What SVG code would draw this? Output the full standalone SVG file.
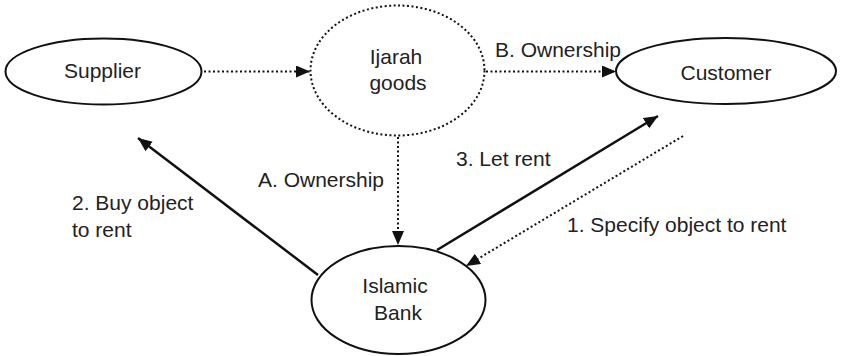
<svg xmlns="http://www.w3.org/2000/svg" width="841" height="356" viewBox="0 0 841 356">
  <style>
    .node { fill: #ffffff; stroke: #111111; stroke-width: 2; }
    .dotted { stroke-dasharray: 2 2.5; }
    .label { font-family: "Liberation Sans", Arial, sans-serif; font-size: 21px; fill: #222222; }
    .mid { text-anchor: middle; }
    .solid-edge { fill: none; stroke: #111111; stroke-width: 2.5; }
    .dot-edge { fill: none; stroke: #111111; stroke-width: 2; stroke-dasharray: 2 2.5; }
  </style>
  <defs>
    <marker id="head" markerUnits="userSpaceOnUse" markerWidth="16" markerHeight="14" refX="14" refY="6" orient="auto">
      <path d="M0,0 L14,6 L0,12 Z" fill="#111111"/>
    </marker>
  </defs>
  <rect width="841" height="356" fill="#ffffff"/>

  <!-- connectors -->
  <g id="connectors">
    <line class="dot-edge" x1="204" y1="71.5" x2="310" y2="71.5" marker-end="url(#head)"/>
    <line class="dot-edge" x1="486" y1="71.5" x2="616" y2="71.5" marker-end="url(#head)"/>
    <line class="dot-edge" x1="398" y1="137" x2="398" y2="245" marker-end="url(#head)"/>
    <line class="solid-edge" x1="318" y1="275" x2="138" y2="138" marker-end="url(#head)"/>
    <line class="solid-edge" x1="437" y1="250" x2="658" y2="116" marker-end="url(#head)"/>
    <line class="dot-edge" x1="683" y1="136" x2="466" y2="266" marker-end="url(#head)"/>
    <text class="label" x="495" y="57">B. Ownership</text>
    <text class="label" x="258" y="187">A. Ownership</text>
    <text class="label" x="72" y="210">2. Buy object</text>
    <text class="label" x="72" y="237">to rent</text>
    <text class="label" x="456" y="166">3. Let rent</text>
    <text class="label" x="567" y="232">1. Specify object to rent</text>
  </g>

  <g id="supplier">
    <ellipse class="node" cx="103.5" cy="71.5" rx="98" ry="33"/>
    <text class="label mid" x="102.5" y="78">Supplier</text>
  </g>

  <g id="ijarah-goods">
    <ellipse class="node dotted" cx="397.5" cy="70.5" rx="87" ry="65"/>
    <text class="label mid" x="396" y="64">Ijarah</text>
    <text class="label mid" x="398" y="90">goods</text>
  </g>

  <g id="customer">
    <ellipse class="node" cx="726" cy="71" rx="110" ry="33"/>
    <text class="label mid" x="726" y="80">Customer</text>
  </g>

  <g id="islamic-bank">
    <ellipse class="node" cx="398.5" cy="300" rx="87" ry="54"/>
    <text class="label mid" x="395" y="293">Islamic</text>
    <text class="label mid" x="398" y="320">Bank</text>
  </g>
</svg>
